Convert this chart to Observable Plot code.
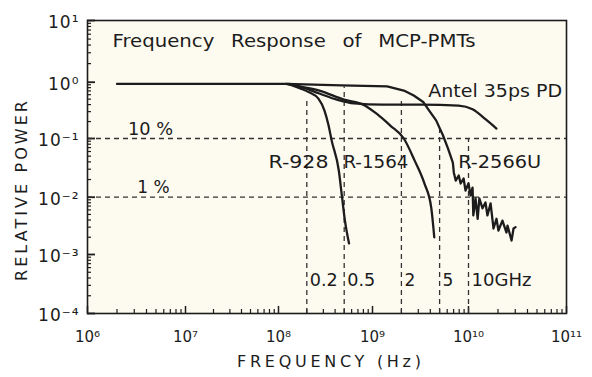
<!DOCTYPE html>
<html><head><meta charset="utf-8">
<script src="https://cdn.jsdelivr.net/npm/d3@7"></script>
<script src="https://cdn.jsdelivr.net/npm/@observablehq/plot@0.6"></script>
<style>
html,body{margin:0;padding:0;background:#fff;}
#chart svg{display:block;}
</style></head><body><div id="chart"></div>
<script>
// ---- data ----
const titleText = "Frequency Response of MCP-PMTs";
const xLabelText = "FREQUENCY (Hz)";
const yLabelText = "RELATIVE POWER";

const xTickValues = [1e6, 1e7, 1e8, 1e9, 1e10, 1e11];
const xTickLabels = ["10⁶", "10⁷", "10⁸", "10⁹", "10¹⁰", "10¹¹"];
const yTickValues = [1e-4, 1e-3, 1e-2, 1e-1, 1e0, 1e1];
const yTickLabels = ["10⁻⁴", "10⁻³", "10⁻²", "10⁻¹", "10⁰", "10¹"];

// R-2566U (includes the common flat part)
const r2566Freq = [2e6, 1.2e8, 4.7e8, 1.42e9, 2.12e9, 2.69e9, 3.40e9, 3.91e9, 4.60e9, 5.43e9, 6.11e9, 6.87e9,
  7.03e9, 7.36e9, 7.91e9, 8.28e9, 8.89e9, 9.31e9, 1.0e10, 1.05e10, 1.10e10, 1.12e10, 1.18e10, 1.24e10, 1.29e10,
  1.39e10, 1.49e10, 1.56e10, 1.68e10, 1.80e10, 1.93e10, 2.02e10, 2.22e10, 2.44e10, 2.50e10, 2.75e10, 2.88e10, 3.02e10];
const r2566Power = [0.93, 0.93, 0.88, 0.84, 0.71, 0.58, 0.44, 0.31, 0.21, 0.113, 0.068, 0.039,
  0.0264, 0.0192, 0.0234, 0.0171, 0.0208, 0.0130, 0.0171, 0.0107, 0.0146, 0.0048, 0.0095, 0.0042, 0.0095,
  0.0064, 0.0081, 0.0048, 0.0078, 0.00284, 0.0042, 0.00262, 0.0039, 0.00242, 0.0032, 0.00175, 0.00284, 0.0030];

const r928Freq = [1.2e8, 1.42e8, 1.73e8, 2.12e8, 2.66e8, 3.09e8, 3.41e8, 3.68e8, 4.38e8, 4.72e8, 5.09e8, 5.63e8];
const r928Power = [0.93, 0.87, 0.77, 0.66, 0.51, 0.31, 0.17, 0.092, 0.0285, 0.0107, 0.0039, 0.00156];

const r1564Freq = [1.3e8, 1.53e8, 2.72e8, 4.97e8, 8.18e8, 1.12e9, 1.53e9, 2.12e9, 2.75e9, 3.48e9, 4.09e9, 4.40e9];
const r1564Power = [0.93, 0.87, 0.71, 0.49, 0.39, 0.27, 0.17, 0.10, 0.042, 0.017, 0.0066, 0.0020];

const antelFreq = [1.25e8, 1.65e8, 2.72e8, 4.17e8, 6.37e8, 1.27e9, 3.24e9, 7.9e9, 1.1e10, 1.49e10, 1.93e10];
const antelPower = [0.93, 0.84, 0.63, 0.49, 0.42, 0.40, 0.40, 0.385, 0.33, 0.22, 0.15];

// bandwidth markers (vertical dashed lines)
const bwFreq = [2e8, 5e8, 2e9, 5e9, 1e10];
const bwTop = [0.5, 0.82, 0.5, 0.16, 0.1];
const bwLabels = ["0.2", "0.5", "2", "5", "10GHz"];
const bwLabelPower = 3.6e-4;

// reference levels (horizontal dashed lines)
const levelPower = [0.1, 0.01];
const levelLabels = ["10 %", "1 %"];
const levelLabelFreq = [4.4e6, 4.7e6];
const levelLabelPower = [0.145, 0.0146];

// curve labels
const curveLabels = ["R-928", "R-1564", "R-2566U", "Antel 35ps PD"];
const curveLabelFreq = [7.8e7, 4.9e8, 7.8e9, 3.8e9];
const curveLabelPower = [0.039, 0.039, 0.039, 0.68];

// ---- layout / style ----
const W = 592, H = 377, mL = 87, mR = 26, mT = 20, mB = 64;
// the printed decades are not perfectly even: pixel position of each decade
const xDecadePx = [87, 185, 278, 372, 468, 566];
const yDecadePx = [313, 254, 196.7, 138, 81.7, 20];
const ink = "#1c1c1c";
const font = "DejaVu Sans";
// tick lengths expressed as multiplicative factors on the log axes (~4 px minor, ~7 px major)
const xTickMinor = 10 ** (4 / 59), xTickMajor = 10 ** (7 / 59);
const yTickMinor = 10 ** (4 / 98), yTickMajor = 10 ** (8 / 98);
// printed widths of the lettering (px): [width, lengthAdjust]
const textWidths = new Map([
  [titleText, [363, "spacingAndGlyphs"]], [xLabelText, [184, "spacing"]], [yLabelText, [180, "spacing"]],
  ["Antel 35ps PD", [134, "spacingAndGlyphs"]], ["R-928", [60, "spacingAndGlyphs"]],
  ["R-1564", [65, "spacingAndGlyphs"]], ["R-2566U", [83, "spacingAndGlyphs"]],
  ["10 %", [45, "spacingAndGlyphs"]], ["0.2", [28, "spacingAndGlyphs"]], ["0.5", [28, "spacingAndGlyphs"]],
  ["10GHz", [60, "spacingAndGlyphs"]]
]);

const minorX = [], minorY = [];
for (let e = 6; e < 11; e++) for (let k = 2; k <= 9; k++) minorX.push(k * 10 ** e);
for (let e = -4; e < 1; e++) for (let k = 2; k <= 9; k++) minorY.push(k * 10 ** e);

const toRows = (fs, ps) => fs.map((f, i) => ({f, p: ps[i]}));
const bwRows = bwFreq.map((f, i) => ({f, top: bwTop[i], label: bwLabels[i]}));
const levelRows = levelPower.map((p, i) => ({p, label: levelLabels[i], lf: levelLabelFreq[i], lp: levelLabelPower[i]}));
const curveRows = curveLabels.map((t, i) => ({t, f: curveLabelFreq[i], p: curveLabelPower[i]}));
const lbl = {fontSize: 17, fill: ink};

const chart = Plot.plot({
  width: W, height: H,
  marginLeft: mL, marginRight: mR, marginTop: mT, marginBottom: mB,
  style: {background: "#ffffff", fontFamily: font, color: ink},
  x: {type: "log", domain: xTickValues, range: xDecadePx, axis: null},
  y: {type: "log", domain: yTickValues, range: yDecadePx, axis: null},
  marks: [
    Plot.frame({fill: "#fdfaf0"}),
    // ticks (inside the frame)
    Plot.ruleX(minorX, {x: d => d, y1: 1e-4, y2: 1e-4 * xTickMinor, stroke: ink, strokeWidth: 1.2}),
    Plot.ruleX(xTickValues, {x: d => d, y1: 1e-4, y2: 1e-4 * xTickMajor, stroke: ink, strokeWidth: 1.5}),
    Plot.ruleY(minorY, {y: d => d, x1: 1e6, x2: 1e6 * yTickMinor, stroke: ink, strokeWidth: 1.2}),
    Plot.ruleY(yTickValues, {y: d => d, x1: 1e6, x2: 1e6 * yTickMajor, stroke: ink, strokeWidth: 1.8}),
    // tick labels
    Plot.text(xTickValues, {x: d => d, frameAnchor: "bottom", dy: 24, text: (d, i) => xTickLabels[i],
      fontSize: 15, fill: ink, textAnchor: "middle", lineAnchor: "middle"}),
    Plot.text(yTickValues, {y: d => d, frameAnchor: "left", dx: -8, dy: 2, text: (d, i) => yTickLabels[i],
      fontSize: 17, fill: ink, textAnchor: "end", lineAnchor: "middle"}),
    // axis labels
    Plot.text([xLabelText], {frameAnchor: "bottom", dx: 2, dy: 48, text: d => d, fontSize: 16, fill: ink,
      textAnchor: "middle", lineAnchor: "middle"}),
    Plot.text([yLabelText], {frameAnchor: "left", dx: -66, dy: 24, rotate: -90, text: d => d, fontSize: 16, fill: ink,
      textAnchor: "middle", lineAnchor: "middle"}),
    // reference lines
    Plot.ruleY(levelRows, {y: "p", stroke: "#333", strokeWidth: 1.3, strokeDasharray: "5,4"}),
    Plot.ruleX(bwRows, {x: "f", y1: 1e-4, y2: "top", stroke: "#333", strokeWidth: 1.3, strokeDasharray: "5,4"}),
    // curves
    Plot.line(toRows(r928Freq, r928Power), {x: "f", y: "p", stroke: ink, strokeWidth: 2.3, curve: "monotone-x"}),
    Plot.line(toRows(r1564Freq, r1564Power), {x: "f", y: "p", stroke: ink, strokeWidth: 2.3, curve: "monotone-x"}),
    Plot.line(toRows(antelFreq, antelPower), {x: "f", y: "p", stroke: ink, strokeWidth: 2.3, curve: "monotone-x"}),
    Plot.line(toRows(r2566Freq, r2566Power), {x: "f", y: "p", stroke: ink, strokeWidth: 2.3, curve: "linear"}),
    // annotations
    Plot.text(levelRows, {x: "lf", y: "lp", text: "label", ...lbl, textAnchor: "middle", lineAnchor: "middle"}),
    Plot.text(bwRows, {x: "f", y: () => bwLabelPower, dx: 3, text: "label", ...lbl, textAnchor: "start", lineAnchor: "middle"}),
    Plot.text(curveRows, {x: "f", y: "p", text: "t", ...lbl, textAnchor: "start", lineAnchor: "middle"}),
    Plot.text([titleText], {frameAnchor: "top-left", dx: 25, dy: 21, text: d => d, fontSize: 17, fill: ink,
      textAnchor: "start", lineAnchor: "middle"}),
    Plot.frame({stroke: ink, strokeWidth: 1.6})
  ]
});
d3.select(chart).selectAll("text").each(function() {
  const spec = textWidths.get(this.textContent);
  if (spec) { this.setAttribute("textLength", spec[0]); this.setAttribute("lengthAdjust", spec[1]); }
  if (this.textContent === titleText) this.style.wordSpacing = "9px";
  if (yTickLabels.includes(this.textContent)) this.style.letterSpacing = "1px";
});
document.getElementById("chart").appendChild(chart);
</script>
</body></html>
